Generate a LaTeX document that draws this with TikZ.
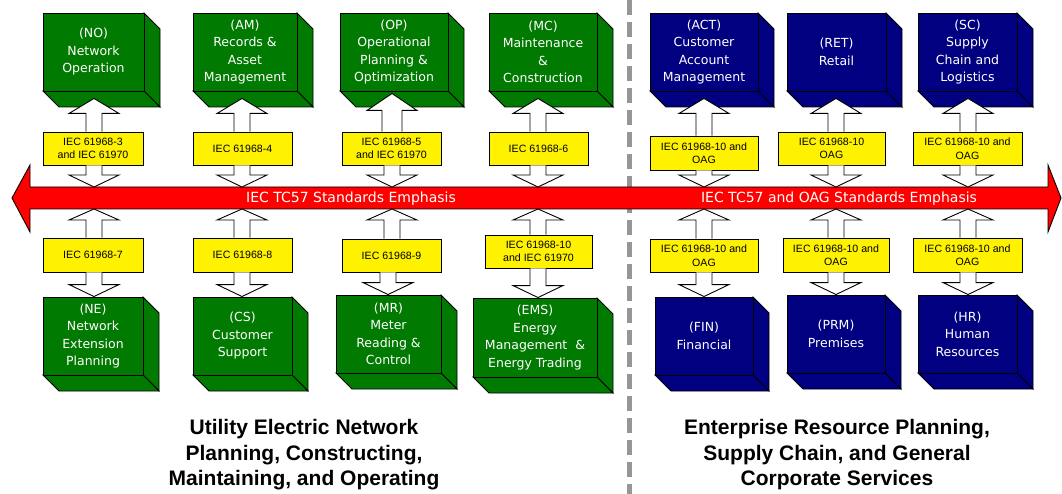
\documentclass[tikz,border=0pt]{standalone}
\usepackage{fontspec}
\usetikzlibrary{calc}
\newfontfamily\dv{DejaVu Sans}
\newfontfamily\lib{Liberation Sans}
\definecolor{boxgreen}{RGB}{0,122,0}
\definecolor{boxnavy}{RGB}{0,0,128}
\definecolor{dashgray}{RGB}{150,150,150}
\definecolor{bandred}{RGB}{255,0,0}
\tikzset{
  outl/.style={draw=black, line width=0.9pt, line join=miter},
  cubeface/.style={outl, text=white, align=center, inner sep=0pt, font=\dv\fontsize{12.5}{17.5}\selectfont},
  stdbox/.style={outl, fill=yellow, align=center, inner sep=0pt, text=black, font=\lib\fontsize{10.6}{13.5}\selectfont},
  blk/.style={outl, fill=white},
  bandtext/.style={text=white, font=\dv\fontsize{14}{16}\selectfont, anchor=base},
  title/.style={align=center, font=\lib\bfseries\fontsize{21}{25.5}\selectfont}
}
% 3D box: name, x1, y1, x2, y2, colour, text
\newcommand\cubebox[7]{%
  \filldraw[outl, fill=#6] (#4,#3) -- (#4+16,#3+16) -- (#4+16,#5+16) -- (#4,#5) -- cycle;
  \filldraw[outl, fill=#6] (#2,#5) -- (#4,#5) -- (#4+16,#5+16) -- (#2+16,#5+16) -- cycle;
  \node[cubeface, fill=#6, minimum width={#4-#2}, minimum height={#5-#3}] (#1) at ({(#2+#4)/2},{(#3+#5)/2}) {#7};
}
% block arrow pointing up: column, start (bottom), tip, head length, shaft half-width
\newcommand\blkup[5][8pt]{%
  \draw[blk] let \p1=(#2), \p2=(#3), \p3=(#4) in
    (\x1-#1,\y2) -- (\x1-#1,\y3-#5) -- (\x1-25pt,\y3-#5) -- (\x1,\y3) -- (\x1+25pt,\y3-#5) -- (\x1+#1,\y3-#5) -- (\x1+#1,\y2);
}
% block arrow pointing down
\newcommand\blkdown[4]{%
  \draw[blk] let \p1=(#1), \p2=(#2), \p3=(#3) in
    (\x1-8pt,\y2) -- (\x1-8pt,\y3+#4) -- (\x1-25pt,\y3+#4) -- (\x1,\y3) -- (\x1+25pt,\y3+#4) -- (\x1+8pt,\y3+#4) -- (\x1+8pt,\y2);
}
\begin{document}
\begin{tikzpicture}[x=1pt,y=-1pt]
\useasboundingbox[fill=white] (0,0) rectangle (1062,494);

% divider
\draw[dashgray, line width=5pt, dash pattern=on 15pt off 7pt] (629,0) -- (629,494);

% column axes
\coordinate (c1) at (94,0);
\coordinate (c2) at (242,0);
\coordinate (c3) at (392,0);
\coordinate (c4) at (538,0);
\coordinate (c5) at (704,0);
\coordinate (c6) at (836,0);
\coordinate (c7) at (968,0);
\coordinate (c3b) at (388,0);

% top boxes
\cubebox{NO}{43}{13}{144}{91}{boxgreen}{(NO)\\Network\\Operation}
\cubebox{AM}{193}{13}{297}{91}{boxgreen}{(AM)\\Records \&\\Asset\\Management}
\cubebox{OP}{340}{13}{448}{91}{boxgreen}{(OP)\\Operational\\Planning \&\\Optimization}
\cubebox{MC}{489}{13}{597}{91}{boxgreen}{(MC)\\Maintenance\\\&\\Construction}
\cubebox{ACT}{650}{13}{758}{91}{boxnavy}{(ACT)\\Customer\\Account\\Management}
\cubebox{RET}{787}{13}{886}{91}{boxnavy}{(RET)\\Retail}
\cubebox{SC}{918}{13}{1017}{91}{boxnavy}{(SC)\\Supply\\Chain and\\Logistics}

% bottom boxes
\cubebox{NE}{43}{297}{143}{375}{boxgreen}{(NE)\\Network\\Extension\\Planning}
\cubebox{CS}{193}{297}{292}{375}{boxgreen}{(CS)\\Customer\\Support}
\cubebox{MR}{336}{295}{441}{373}{boxgreen}{(MR)\\Meter\\Reading \&\\Control}
\cubebox{EMS}{473}{298}{597}{377}{boxgreen}{(EMS)\\Energy\\Management \ \&\\Energy Trading}
\cubebox{FIN}{655}{297}{753}{375}{boxnavy}{(FIN)\\Financial}
\cubebox{PRM}{787}{295}{885}{373}{boxnavy}{(PRM)\\Premises}
\cubebox{HR}{918}{295}{1017}{373}{boxnavy}{(HR)\\Human\\Resources}

% standards labels, upper row
\node[stdbox, minimum width=100, minimum height=33] (Y1) at (93,148.5) {IEC 61968-3\\and IEC 61970};
\node[stdbox, minimum width=99, minimum height=33] (Y2) at (242.5,148.5) {IEC 61968-4};
\node[stdbox, minimum width=99, minimum height=33] (Y3) at (391.5,148.5) {IEC 61968-5\\and IEC 61970};
\node[stdbox, minimum width=99, minimum height=33] (Y4) at (538.5,148.5) {IEC 61968-6};
\node[stdbox, minimum width=108, minimum height=34] (Y5) at (704,153) {IEC 61968-10 and\\OAG};
\node[stdbox, minimum width=107, minimum height=33] (Y6) at (831.5,148.5) {IEC 61968-10\\OAG};
\node[stdbox, minimum width=109, minimum height=33] (Y7) at (967.5,148.5) {IEC 61968-10 and\\OAG};

% standards labels, lower row
\node[stdbox, minimum width=100, minimum height=34] (Z1) at (93,255) {IEC 61968-7};
\node[stdbox, minimum width=99, minimum height=34] (Z2) at (242.5,255) {IEC 61968-8};
\node[stdbox, minimum width=99, minimum height=33] (Z3) at (391.5,255.5) {IEC 61968-9};
\node[stdbox, minimum width=107, minimum height=33] (Z4) at (538.5,251.5) {IEC 61968-10\\and IEC 61970};
\node[stdbox, minimum width=108, minimum height=33] (Z5) at (704,255.5) {IEC 61968-10 and\\OAG};
\node[stdbox, minimum width=106, minimum height=34] (Z6) at (836,255) {IEC 61968-10 and\\OAG};
\node[stdbox, minimum width=109, minimum height=34] (Z7) at (967.5,255) {IEC 61968-10 and\\OAG};

% red emphasis band
\coordinate (bt) at (0,187);
\coordinate (bb) at (0,209);
\filldraw[outl, fill=bandred] (12,198) -- (30,165) -- (30,187) -- (1048,187) -- (1048,165) -- (1061,198)
  -- (1048,232) -- (1048,209) -- (30,209) -- (30,232) -- cycle;
\node[bandtext] (tl) at (351,203) {IEC TC57 Standards Emphasis};
\node[bandtext] (tr) at (839,203) {IEC TC57 and OAG Standards Emphasis};

% arrows: label -> upper box
\blkup{c1}{Y1.north}{$(NO.south)+(0,7)$}{15pt}
\blkup{c2}{Y2.north}{$(AM.south)+(0,7)$}{15pt}
\blkup[10pt]{c3}{Y3.north}{$(OP.south)+(0,2)$}{17pt}
\blkup{c4}{Y4.north}{$(MC.south)+(0,7)$}{15pt}
\blkup{c5}{Y5.north}{$(ACT.south)+(0,7)$}{15pt}
\blkup{c6}{Y6.north}{$(RET.south)+(0,7)$}{15pt}
\blkup{c7}{Y7.north}{$(SC.south)+(0,7)$}{15pt}

% arrows: upper label -> band
\foreach \col/\lab in {c1/Y1,c2/Y2,c3/Y3,c4/Y4,c5/Y5,c6/Y6,c7/Y7}{
  \blkdown{\col}{\lab.south}{bt}{12pt}
}
% arrows: lower label -> band
\foreach \col/\lab in {c1/Z1,c2/Z2,c3/Z3,c4/Z4,c5/Z5,c6/Z6,c7/Z7}{
  \blkup{\col}{\lab.north}{bb}{11pt}
}
% arrows: lower label -> lower box
\blkdown{c1}{Z1.south}{NE.north}{12pt}
\blkdown{c2}{Z2.south}{CS.north}{12pt}
\blkdown{c3b}{Z3.south}{MR.north}{12pt}
\blkdown{c4}{Z4.south}{EMS.north}{12pt}
\blkdown{c5}{Z5.south}{FIN.north}{12pt}
\blkdown{c6}{Z6.south}{PRM.north}{12pt}
\blkdown{c7}{Z7.south}{HR.north}{12pt}

% titles
\node[title] (tA) at (304,455) {Utility Electric Network\\Planning, Constructing,\\Maintaining, and Operating};
\node[title] (tB) at (837,455) {Enterprise Resource Planning,\\Supply Chain, and General\\Corporate Services};
\end{tikzpicture}
\end{document}
